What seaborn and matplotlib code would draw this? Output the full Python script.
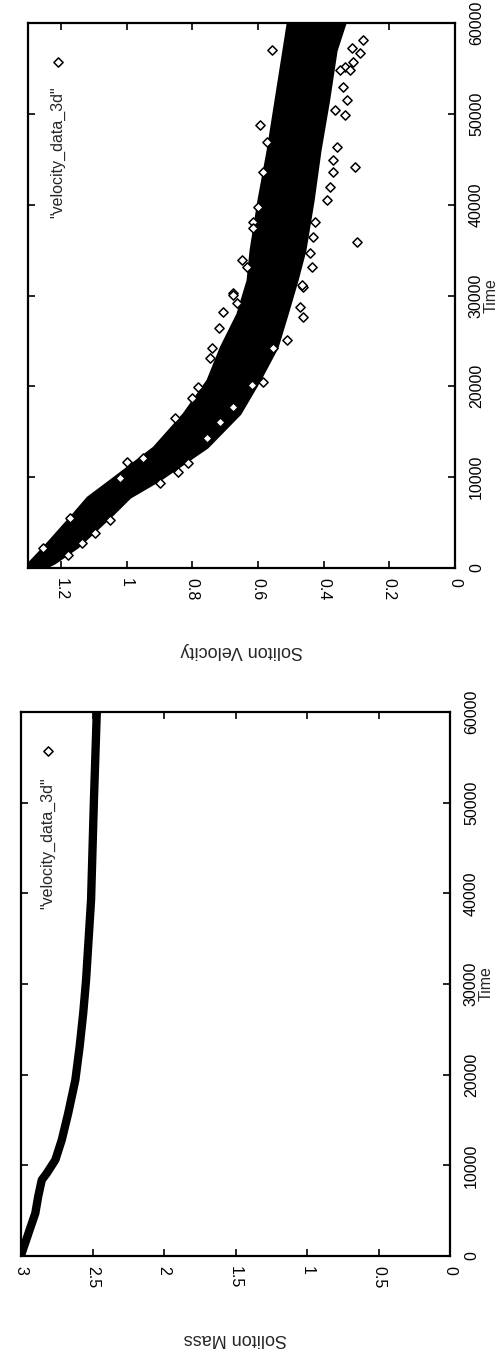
import matplotlib
matplotlib.use("Agg")
import matplotlib.pyplot as plt
import seaborn as sns
import pandas as pd

sns.set_style("ticks")
plt.rcParams['font.family'] = ['Liberation Sans', 'DejaVu Sans']

# ---------------- data ----------------
time_ticks = [0, 10000, 20000, 30000, 40000, 50000, 60000]
vel_ticks = [0, 0.2, 0.4, 0.6, 0.8, 1.0, 1.2]
mass_ticks = [0, 0.5, 1.0, 1.5, 2.0, 2.5, 3.0]
vel_tick_labels = ["0", "0.2", "0.4", "0.6", "0.8", "1", "1.2"]
mass_tick_labels = ["0", "0.5", "1", "1.5", "2", "2.5", "3"]

# dense band of velocity points (horizontal extent at each time)
band_time = [0, 550, 2300, 6000, 7800, 9700, 13300, 17000, 20700, 24300,
             28000, 31700, 35000, 40500, 46000, 51500, 57000, 60000]
band_low = [1.25, 1.22, 1.15, 1.04, 0.99, 0.90, 0.755, 0.655, 0.595, 0.542,
            0.511, 0.481, 0.457, 0.432, 0.411, 0.385, 0.362, 0.335]
band_high = [1.30, 1.30, 1.254, 1.163, 1.12, 1.05, 0.919, 0.828, 0.755, 0.715,
             0.664, 0.633, 0.624, 0.600, 0.572, 0.548, 0.524, 0.511]

# scattered velocity points outside the dense band
out_time = [57030, 48770, 46940, 43630, 39780, 38130, 37400, 33910, 33170, 30240,
            58130, 56670, 55740, 55190, 54830, 52990, 51530, 49880, 50430, 46390,
            44180, 44920, 43630, 41980, 40520, 35930, 38130, 36480, 34650, 33170,
            30970, 57220, 54830,
            30060, 29140, 28220, 26390, 24190, 23090, 19960, 18680, 16480, 11700,
            12080, 9880, 5470, 2170, 31160, 27670, 28770, 25100, 24190, 20510,
            20150, 17760, 16110, 14280, 11530, 10610, 9330, 5290, 3820, 2720, 1430]
out_vel = [0.558, 0.594, 0.573, 0.584, 0.599, 0.614, 0.614, 0.649, 0.634, 0.675,
           0.279, 0.289, 0.310, 0.335, 0.320, 0.340, 0.330, 0.335, 0.365, 0.360,
           0.304, 0.370, 0.370, 0.381, 0.391, 0.299, 0.426, 0.431, 0.441, 0.436,
           0.462, 0.314, 0.350,
           0.675, 0.664, 0.705, 0.720, 0.741, 0.746, 0.781, 0.802, 0.852, 1.000,
           0.949, 1.020, 1.172, 1.253, 0.467, 0.462, 0.472, 0.512, 0.553, 0.584,
           0.619, 0.675, 0.715, 0.756, 0.812, 0.842, 0.898, 1.050, 1.096, 1.136, 1.177]

# soliton mass curve
mass_time = [0, 300, 2870, 4710, 6540, 8380, 9120, 10590, 12800, 15740,
             19410, 23090, 26770, 30440, 39270, 50300, 60000]
mass_val = [3.00, 2.995, 2.94, 2.90, 2.88, 2.855, 2.82, 2.76, 2.715, 2.67,
            2.62, 2.59, 2.565, 2.545, 2.51, 2.49, 2.47]

legend_label = '"velocity_data_3d"'

# ---------------- figure ----------------
W, H = 500, 1363
fig = plt.figure(figsize=(W / 100, H / 100), dpi=100)
ax_v = fig.add_axes([28 / W, 1 - 568 / H, 427 / W, 545 / H])
ax_m = fig.add_axes([21 / W, 1 - 1256 / H, 429 / W, 544 / H])

marker_kw = dict(marker="D", s=22, facecolor="white", edgecolor="black", linewidth=1.1)

# velocity panel
ax_v.fill_betweenx(band_time, band_low, band_high, color="black", linewidth=1.5,
                   edgecolor="black")
sns.scatterplot(x=out_vel, y=out_time, ax=ax_v, zorder=3, **marker_kw)

# mass panel
mass_df = pd.DataFrame({"Time": mass_time, "Mass": mass_val})
sns.lineplot(data=mass_df, x="Mass", y="Time", ax=ax_m, color="black",
             linewidth=6, sort=False, estimator=None, solid_capstyle="round")


def style(ax, xmax, xticks, xlabels, xlabel, leg_x, leg_ytop, leg_ymark):
    ax.set_xlim(xmax, 0)
    ax.set_ylim(0, 60000)
    ax.set_xticks(xticks)
    ax.set_xticklabels(xlabels)
    ax.set_yticks(time_ticks)
    ax.set_yticklabels([str(t) for t in time_ticks])
    for sp in ax.spines.values():
        sp.set_visible(True)
        sp.set_linewidth(1.6)
        sp.set_color("black")
    ax.tick_params(axis="both", direction="in", length=5, width=1.2,
                   top=True, bottom=True, left=True, right=True,
                   labelleft=False, labelright=True, labeltop=False,
                   labelbottom=True, labelsize=11.5, colors="black")
    ax.tick_params(axis="x", labelrotation=-90, pad=7)
    ax.tick_params(axis="y", labelrotation=90, pad=10)
    for lab in ax.get_yticklabels():
        lab.set_va("center")
        lab.set_ha("left")
    ax.yaxis.set_label_position("right")
    ax.set_ylabel("Time", rotation=90, fontsize=11.5, labelpad=0, va="top")
    ax.set_xlabel(xlabel, rotation=180, fontsize=13, labelpad=30)
    ax.grid(False)
    ax.text(leg_x, leg_ytop, legend_label, rotation=90, transform=ax.transAxes,
            ha="center", va="top", fontsize=11.5)
    ax.scatter([leg_x], [leg_ymark], transform=ax.transAxes, clip_on=False,
               **marker_kw)


style(ax_v, 1.3, vel_ticks, vel_tick_labels, "Soliton Velocity", 0.070, 0.883, 0.928)
style(ax_m, 3.0, mass_ticks, mass_tick_labels, "Soliton Mass", 0.063, 0.879, 0.928)

fig.savefig("out.png", dpi=100, facecolor="white")
